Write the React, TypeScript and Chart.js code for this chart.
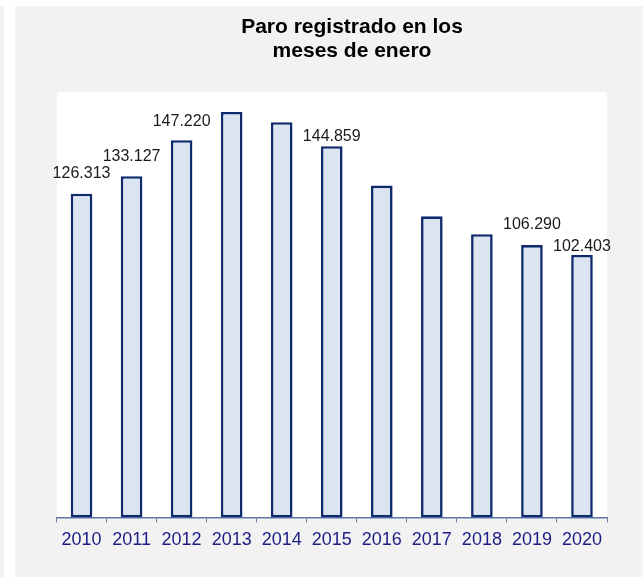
import React, { useEffect, useRef } from "react";
import { Chart, registerables } from "chart.js";

Chart.register(...registerables);

// ---- data ----
const years: string[] = ["2010", "2011", "2012", "2013", "2014", "2015", "2016", "2017", "2018", "2019", "2020"];
const paroEnero: number[] = [126313, 133127, 147220, 158200, 154200, 144859, 129500, 117500, 110500, 106290, 102403];
const showValue: boolean[] = [true, true, true, false, false, true, false, false, false, true, true];
const titleLines: string[] = ["Paro registrado en los", "meses de enero"];
const yMin = 0;
const yMax = 166000;

// ---- style (label lift above bar top, px) ----
const labelLift: number[] = [20, 20, 19, 0, 0, 10, 0, 0, 0, 20, 8];

const FONT = "'Liberation Sans', Arial, Helvetica, sans-serif";

function fmt(v: number): string {
  return String(Math.round(v)).replace(/\B(?=(\d{3})+(?!\d))/g, ".");
}

const valueLabels = {
  id: "valueLabels",
  afterDatasetsDraw(chart: any) {
    const ctx = chart.ctx;
    const meta = chart.getDatasetMeta(0);
    const data = chart.data.datasets[0].data as number[];
    ctx.save();
    ctx.font = `16px ${FONT}`;
    ctx.fillStyle = "#1a1a1a";
    ctx.textAlign = "center";
    ctx.textBaseline = "middle";
    meta.data.forEach((bar: any, i: number) => {
      if (!showValue[i]) return;
      ctx.fillText(fmt(data[i]), bar.x, bar.y - labelLift[i]);
    });
    ctx.restore();
  },
};

export default function App() {
  const ref = useRef<HTMLCanvasElement | null>(null);

  useEffect(() => {
    if (!ref.current) return;
    const axisColor = "#5b78a8";
    const spacer = (w: number) => ({
      display: true,
      grid: { display: false, drawTicks: false },
      border: { display: false },
      ticks: { display: false },
      afterFit: (s: any) => {
        s.width = w;
      },
    });
    const chart = new Chart(ref.current, {
      type: "bar",
      data: {
        labels: years,
        datasets: [
          {
            data: paroEnero,
            yAxisID: "y",
            backgroundColor: "#dbe5f1",
            borderColor: "#0f2b6e",
            borderWidth: 2.6,
            borderSkipped: false,
            barPercentage: 0.432,
            categoryPercentage: 1,
          },
        ],
      },
      options: {
        responsive: false,
        animation: false,
        devicePixelRatio: 1,
        layout: { padding: { left: 0, right: 0, top: 0, bottom: 19 } },
        plugins: {
          legend: { display: false },
          tooltip: { enabled: false },
          title: {
            display: true,
            text: titleLines,
            color: "#000000",
            font: { family: FONT, size: 21, weight: "bold", lineHeight: 1.16 },
            padding: { top: 8.8, bottom: 28.5 },
          },
        },
        scales: {
          x: {
            grid: {
              display: true,
              drawOnChartArea: false,
              drawTicks: true,
              tickLength: 5,
              color: axisColor,
              offset: true,
            },
            border: { display: true, color: axisColor, width: 1.5 },
            ticks: {
              color: "#1c1c86",
              font: { family: FONT, size: 18 },
              padding: 7,
              maxRotation: 0,
              autoSkip: false,
            },
          },
          y: {
            ...spacer(41.5),
            position: "left",
            min: yMin,
            max: yMax,
          },
          y2: {
            ...spacer(82),
            position: "right",
            min: yMin,
            max: yMax,
          },
        },
      } as any,
      plugins: [valueLabels],
    });
    return () => chart.destroy();
  }, []);

  return (
    <div
      style={{
        position: "absolute",
        left: 0,
        top: 0,
        width: 643,
        height: 577,
        background: "#ffffff",
        overflow: "hidden",
      }}
    >
      <div style={{ position: "absolute", left: 0, top: 6, width: 4, height: 571, background: "#f2f2f2" }} />
      <div
        style={{
          position: "absolute",
          left: 15,
          top: 6,
          width: 628,
          height: 571,
          background: "#f2f2f2",
          overflow: "hidden",
        }}
      >
        <div
          style={{
            position: "absolute",
            left: 41.5,
            top: 86,
            width: 550.5,
            height: 425.5,
            background: "#ffffff",
          }}
        />
        <canvas
          ref={ref}
          width={674}
          height={571}
          style={{ position: "absolute", left: 0, top: 0, width: 674, height: 571 }}
        />
      </div>
    </div>
  );
}
